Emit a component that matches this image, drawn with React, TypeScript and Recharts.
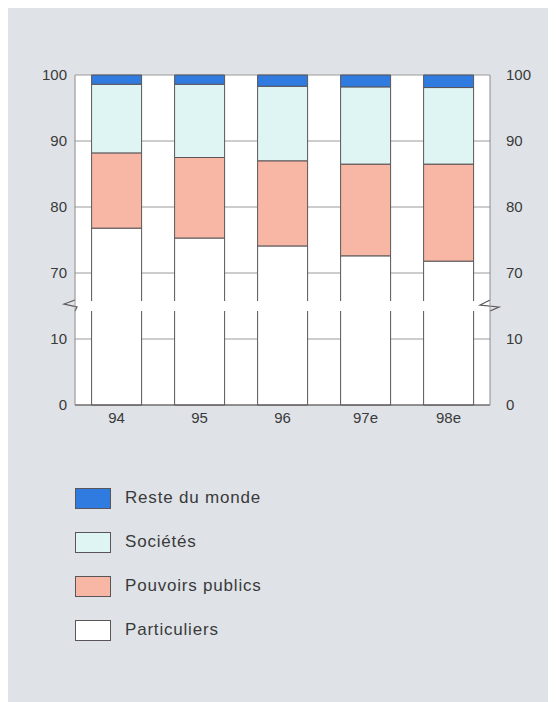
import React from 'react';
import { BarChart, Bar, XAxis, YAxis, CartesianGrid, ReferenceLine } from 'recharts';

const years = ['94', '95', '96', '97e', '98e'];
const particuliers = [76.8, 75.3, 74.1, 72.6, 71.8];
const pouvoirsPublics = [11.4, 12.2, 12.9, 13.9, 14.7];
const societes = [10.4, 11.1, 11.3, 11.7, 11.6];
const resteDuMonde = [1.4, 1.4, 1.7, 1.8, 1.9];
const tickLabels = ['0', '10', '70', '80', '90', '100'];

// axis break: values between 10 and 60 are cut out
const BREAK_SHIFT = 50;
const tickValues = [0, 10, 20, 30, 40, 50];
const BREAK_AT = 15;

const data = years.map((y, i) => ({
  year: y,
  particuliers: particuliers[i] - BREAK_SHIFT,
  pouvoirs: pouvoirsPublics[i],
  societes: societes[i],
  reste: resteDuMonde[i],
}));

const COLORS = {
  reste: '#2f7be0',
  societes: '#def5f4',
  pouvoirs: '#f8b7a5',
  particuliers: '#ffffff',
};
const STROKE = '#5a5558';
const FONT = '"Liberation Sans", Arial, Helvetica, sans-serif';
const TEXT = '#3a3a3a';
const BG = '#dfe3e8';

const legendItems = [
  { label: 'Reste du monde', color: COLORS.reste },
  { label: 'Sociétés', color: COLORS.societes },
  { label: 'Pouvoirs publics', color: COLORS.pouvoirs },
  { label: 'Particuliers', color: COLORS.particuliers },
];

const labelFor = (v: number) => tickLabels[tickValues.indexOf(v)] ?? String(v);

const RightTick = (props: any) => {
  const { x, y, payload } = props;
  return (
    <text x={x} y={y} dy="0.355em" textAnchor="start" fill={TEXT} fontSize={15} fontFamily={FONT}>
      {labelFor(payload.value)}
    </text>
  );
};

const BreakShape = (props: any) => {
  const x1 = props.x1 ?? props.viewBox?.x ?? 0;
  const x2 = props.x2 ?? (props.viewBox ? props.viewBox.x + props.viewBox.width : 0);
  const y = props.y1 ?? props.viewBox?.y ?? 0;
  return (
    <g>
      <rect x={x1 - 1} y={y - 5} width={x2 - x1 + 2} height={10} fill="#ffffff" />
      <rect x={x1 - 14} y={y - 5} width={13} height={10} fill={BG} />
      <rect x={x2 + 1} y={y - 5} width={13} height={10} fill={BG} />
      <path
        d={`M${x1},${y - 6} L${x1 - 11},${y - 2} L${x1 + 2},${y + 1} L${x1},${y + 5}`}
        fill="none"
        stroke={STROKE}
        strokeWidth={1.2}
      />
      <path
        d={`M${x2},${y - 6} L${x2 - 10},${y - 1} L${x2 + 9},${y + 1} L${x2},${y + 5}`}
        fill="none"
        stroke={STROKE}
        strokeWidth={1.2}
      />
    </g>
  );
};

export default function App() {
  return (
    <div
      style={{
        width: 548,
        height: 698,
        marginTop: -2,
        background: BG,
        fontFamily: FONT,
        position: 'relative',
      }}
    >
      <BarChart
        width={548}
        height={430}
        data={data}
        margin={{ top: 69, right: 0, left: 0, bottom: 0 }}
        barCategoryGap="20%"
      >
        <CartesianGrid
          yAxisId="left"
          vertical={false}
          stroke="#9a9a9a"
          fill="#ffffff"
          horizontalValues={tickValues}
        />
        <XAxis
          dataKey="year"
          height={31}
          tickLine={false}
          tickSize={0}
          tickMargin={7}
          axisLine={{ stroke: STROKE }}
          tick={{ fill: TEXT, fontSize: 15, fontFamily: FONT }}
        />
        <YAxis
          yAxisId="left"
          orientation="left"
          width={67}
          domain={[0, 50]}
          ticks={tickValues}
          tickFormatter={labelFor}
          tickLine={false}
          tickSize={0}
          tickMargin={8}
          axisLine={{ stroke: '#8a8a8a' }}
          tick={{ fill: TEXT, fontSize: 15, fontFamily: FONT }}
        />
        <YAxis
          yAxisId="right"
          orientation="right"
          width={66}
          type="number"
          domain={[0, 50]}
          ticks={tickValues}
          allowDataOverflow
          tickLine={false}
          tickSize={0}
          tickMargin={16}
          axisLine={{ stroke: '#8a8a8a' }}
          tick={RightTick}
        />
        <Bar yAxisId="left" dataKey="particuliers" stackId="a" fill={COLORS.particuliers} stroke={STROKE} strokeWidth={1} isAnimationActive={false} />
        <Bar yAxisId="left" dataKey="pouvoirs" stackId="a" fill={COLORS.pouvoirs} stroke={STROKE} strokeWidth={1} isAnimationActive={false} />
        <Bar yAxisId="left" dataKey="societes" stackId="a" fill={COLORS.societes} stroke={STROKE} strokeWidth={1} isAnimationActive={false} />
        <Bar yAxisId="left" dataKey="reste" stackId="a" fill={COLORS.reste} stroke={STROKE} strokeWidth={1} isAnimationActive={false} />
        <ReferenceLine yAxisId="left" y={BREAK_AT} shape={BreakShape} />
      </BarChart>
      <div style={{ position: 'absolute', left: 67, top: 470 }}>
        {legendItems.map((it) => (
          <div key={it.label} style={{ display: 'flex', alignItems: 'center', height: 44 }}>
            <div
              style={{
                width: 34,
                height: 19,
                background: it.color,
                border: `1px solid ${STROKE}`,
                marginRight: 14,
              }}
            />
            <span style={{ fontSize: 17, letterSpacing: 0.8, color: TEXT, fontFamily: FONT }}>{it.label}</span>
          </div>
        ))}
      </div>
    </div>
  );
}
